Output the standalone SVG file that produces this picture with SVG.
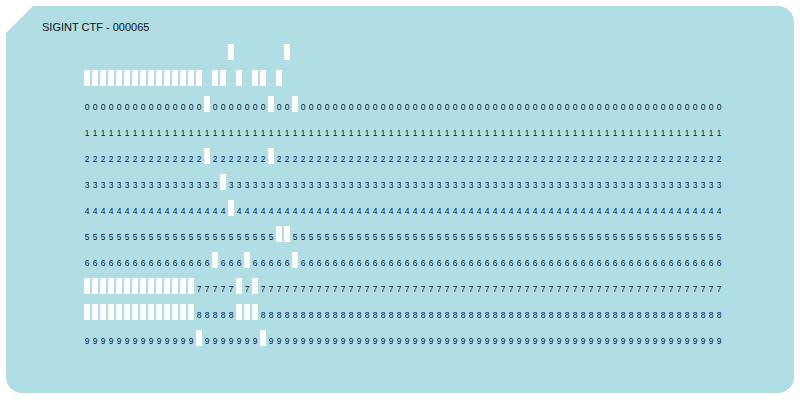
<svg xmlns="http://www.w3.org/2000/svg" width="800" height="400" viewBox="0 0 800 400">
<style>
.card{fill:#b0dee4}
.hole{fill:#ffffff}
.d{font-family:"Liberation Sans",Arial,sans-serif;font-size:8.5px;fill:#0b1d3a;text-anchor:middle}
.title{font-family:"Liberation Sans",Arial,sans-serif;font-size:11px;fill:#111111}
</style>
<defs>
<rect id="h" class="hole" width="6" height="16"/>
</defs>
<g id="card">
<path class="card" d="M6,33 L33,6 L778,6 A16,16 0 0 1 794,22 L794,377 A16,16 0 0 1 778,393 L22,393 A16,16 0 0 1 6,377 Z"/>
<text class="title" x="42" y="31">SIGINT CTF - 000065</text>
</g>
<g id="digits">
<text class="d" y="109.5" x="87 95 103 111 119 127 135 143 151 159 167 175 183 191 199 215 223 231 239 247 255 263 279 287">000000000000000000000000</text>
<text class="d" y="135.5" x="87 95 103 111 119 127 135 143 151 159 167 175 183 191 199 207 215 223 231 239 247 255 263 271 279 287 295">111111111111111111111111111</text>
<text class="d" y="161.5" x="87 95 103 111 119 127 135 143 151 159 167 175 183 191 199 215 223 231 239 247 255 263 279 287 295">2222222222222222222222222</text>
<text class="d" y="187.5" x="87 95 103 111 119 127 135 143 151 159 167 175 183 191 199 207 215 231 239 247 255 263 271 279 287 295">33333333333333333333333333</text>
<text class="d" y="213.5" x="87 95 103 111 119 127 135 143 151 159 167 175 183 191 199 207 215 223 239 247 255 263 271 279 287 295">44444444444444444444444444</text>
<text class="d" y="239.5" x="87 95 103 111 119 127 135 143 151 159 167 175 183 191 199 207 215 223 231 239 247 255 263 271 295">5555555555555555555555555</text>
<text class="d" y="265.5" x="87 95 103 111 119 127 135 143 151 159 167 175 183 191 199 207 223 231 239 255 263 271 279 287">666666666666666666666666</text>
<text class="d" y="291.5" x="199 207 215 223 231 247 263 271 279 287 295">77777777777</text>
<text class="d" y="317.5" x="199 207 215 223 231 263 271 279 287 295">8888888888</text>
<text class="d" y="343.5" x="87 95 103 111 119 127 135 143 151 159 167 175 183 191 207 215 223 231 239 247 255 271 279 287 295">9999999999999999999999999</text>
<text class="d" y="109.5" x="303 311 319 327 335 343 351 359 367 375 383 391 399 407 415 423 431 439 447 455 463 471 479 487 495 503 511 519 527 535 543 551 559 567 575 583 591 599 607 615 623 631 639 647 655 663 671 679 687 695 703 711 719">00000000000000000000000000000000000000000000000000000</text>
<text class="d" y="135.5" x="303 311 319 327 335 343 351 359 367 375 383 391 399 407 415 423 431 439 447 455 463 471 479 487 495 503 511 519 527 535 543 551 559 567 575 583 591 599 607 615 623 631 639 647 655 663 671 679 687 695 703 711 719">11111111111111111111111111111111111111111111111111111</text>
<text class="d" y="161.5" x="303 311 319 327 335 343 351 359 367 375 383 391 399 407 415 423 431 439 447 455 463 471 479 487 495 503 511 519 527 535 543 551 559 567 575 583 591 599 607 615 623 631 639 647 655 663 671 679 687 695 703 711 719">22222222222222222222222222222222222222222222222222222</text>
<text class="d" y="187.5" x="303 311 319 327 335 343 351 359 367 375 383 391 399 407 415 423 431 439 447 455 463 471 479 487 495 503 511 519 527 535 543 551 559 567 575 583 591 599 607 615 623 631 639 647 655 663 671 679 687 695 703 711 719">33333333333333333333333333333333333333333333333333333</text>
<text class="d" y="213.5" x="303 311 319 327 335 343 351 359 367 375 383 391 399 407 415 423 431 439 447 455 463 471 479 487 495 503 511 519 527 535 543 551 559 567 575 583 591 599 607 615 623 631 639 647 655 663 671 679 687 695 703 711 719">44444444444444444444444444444444444444444444444444444</text>
<text class="d" y="239.5" x="303 311 319 327 335 343 351 359 367 375 383 391 399 407 415 423 431 439 447 455 463 471 479 487 495 503 511 519 527 535 543 551 559 567 575 583 591 599 607 615 623 631 639 647 655 663 671 679 687 695 703 711 719">55555555555555555555555555555555555555555555555555555</text>
<text class="d" y="265.5" x="303 311 319 327 335 343 351 359 367 375 383 391 399 407 415 423 431 439 447 455 463 471 479 487 495 503 511 519 527 535 543 551 559 567 575 583 591 599 607 615 623 631 639 647 655 663 671 679 687 695 703 711 719">66666666666666666666666666666666666666666666666666666</text>
<text class="d" y="291.5" x="303 311 319 327 335 343 351 359 367 375 383 391 399 407 415 423 431 439 447 455 463 471 479 487 495 503 511 519 527 535 543 551 559 567 575 583 591 599 607 615 623 631 639 647 655 663 671 679 687 695 703 711 719">77777777777777777777777777777777777777777777777777777</text>
<text class="d" y="317.5" x="303 311 319 327 335 343 351 359 367 375 383 391 399 407 415 423 431 439 447 455 463 471 479 487 495 503 511 519 527 535 543 551 559 567 575 583 591 599 607 615 623 631 639 647 655 663 671 679 687 695 703 711 719">88888888888888888888888888888888888888888888888888888</text>
<text class="d" y="343.5" x="303 311 319 327 335 343 351 359 367 375 383 391 399 407 415 423 431 439 447 455 463 471 479 487 495 503 511 519 527 535 543 551 559 567 575 583 591 599 607 615 623 631 639 647 655 663 671 679 687 695 703 711 719">99999999999999999999999999999999999999999999999999999</text>
</g>
<g id="holes">
<use href="#h" x="228" y="44"/><use href="#h" x="284" y="44"/>
<use href="#h" x="84" y="70"/><use href="#h" x="92" y="70"/><use href="#h" x="100" y="70"/><use href="#h" x="108" y="70"/><use href="#h" x="116" y="70"/><use href="#h" x="124" y="70"/><use href="#h" x="132" y="70"/><use href="#h" x="140" y="70"/><use href="#h" x="148" y="70"/><use href="#h" x="156" y="70"/><use href="#h" x="164" y="70"/><use href="#h" x="172" y="70"/><use href="#h" x="180" y="70"/><use href="#h" x="188" y="70"/><use href="#h" x="196" y="70"/><use href="#h" x="212" y="70"/><use href="#h" x="220" y="70"/><use href="#h" x="236" y="70"/><use href="#h" x="252" y="70"/><use href="#h" x="260" y="70"/><use href="#h" x="276" y="70"/>
<use href="#h" x="204" y="96"/><use href="#h" x="268" y="96"/><use href="#h" x="292" y="96"/>
<use href="#h" x="204" y="148"/><use href="#h" x="268" y="148"/>
<use href="#h" x="220" y="174"/>
<use href="#h" x="228" y="200"/>
<use href="#h" x="276" y="226"/><use href="#h" x="284" y="226"/>
<use href="#h" x="212" y="252"/><use href="#h" x="244" y="252"/><use href="#h" x="292" y="252"/>
<use href="#h" x="84" y="278"/><use href="#h" x="92" y="278"/><use href="#h" x="100" y="278"/><use href="#h" x="108" y="278"/><use href="#h" x="116" y="278"/><use href="#h" x="124" y="278"/><use href="#h" x="132" y="278"/><use href="#h" x="140" y="278"/><use href="#h" x="148" y="278"/><use href="#h" x="156" y="278"/><use href="#h" x="164" y="278"/><use href="#h" x="172" y="278"/><use href="#h" x="180" y="278"/><use href="#h" x="188" y="278"/><use href="#h" x="236" y="278"/><use href="#h" x="252" y="278"/>
<use href="#h" x="84" y="304"/><use href="#h" x="92" y="304"/><use href="#h" x="100" y="304"/><use href="#h" x="108" y="304"/><use href="#h" x="116" y="304"/><use href="#h" x="124" y="304"/><use href="#h" x="132" y="304"/><use href="#h" x="140" y="304"/><use href="#h" x="148" y="304"/><use href="#h" x="156" y="304"/><use href="#h" x="164" y="304"/><use href="#h" x="172" y="304"/><use href="#h" x="180" y="304"/><use href="#h" x="188" y="304"/><use href="#h" x="236" y="304"/><use href="#h" x="244" y="304"/><use href="#h" x="252" y="304"/>
<use href="#h" x="196" y="330"/><use href="#h" x="260" y="330"/>
</g>
</svg>
